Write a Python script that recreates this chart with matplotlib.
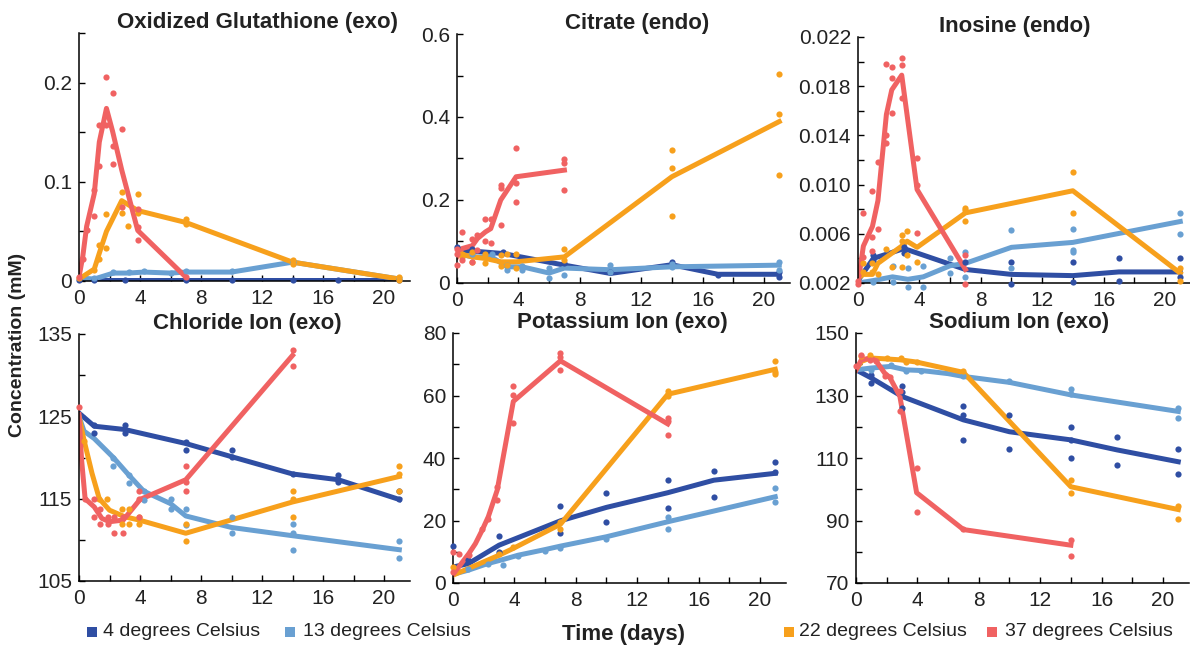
import numpy as np
import matplotlib
matplotlib.use("Agg")
import matplotlib.pyplot as plt
from matplotlib.patches import Rectangle

plt.rcParams['font.family'] = ['Liberation Sans', 'DejaVu Sans']

# colours per storage temperature
c4 = '#2f4ea3'
c13 = '#69a0d2'
c22 = '#f7a01c'
c37 = '#f06262'

temps = ['4 degrees Celsius', '13 degrees Celsius', '22 degrees Celsius', '37 degrees Celsius']

# ---- Oxidized glutathione (exo) ----
gssg_t4 = [0, 1, 3, 7, 10, 14, 17, 21]
gssg_y4 = [0.001, 0.001, 0.001, 0.001, 0.001, 0.001, 0.001, 0.001]
gssg_dt4 = [0, 1, 3, 7, 10, 14, 17, 21]
gssg_dy4 = [0.001, 0.001, 0.001, 0.001, 0.001, 0.001, 0.001, 0.001]
gssg_t13 = [0, 1, 2.25, 3.25, 4.25, 6, 7, 10, 14, 21]
gssg_y13 = [0.003, 0.002, 0.008, 0.008, 0.009, 0.008, 0.009, 0.009, 0.019, 0.002]
gssg_dt13 = [1, 2.25, 3.25, 4.25, 6, 7, 10, 14, 14, 21]
gssg_dy13 = [0.003, 0.009, 0.009, 0.010, 0.008, 0.010, 0.010, 0.020, 0.018, 0.003]
gssg_t22 = [0, 1, 1.33, 1.8, 2.8, 3.85, 7, 14, 21]
gssg_y22 = [0.002, 0.012, 0.028, 0.050, 0.081, 0.071, 0.059, 0.019, 0.002]
gssg_dt22 = [0, 1, 1.33, 1.33, 1.8, 1.8, 2.8, 2.8, 3.2, 3.85, 3.85, 7, 7, 14, 14, 21, 21]
gssg_dy22 = [0.003, 0.011, 0.036, 0.022, 0.068, 0.033, 0.090, 0.069, 0.055, 0.088, 0.069,
             0.062, 0.057, 0.021, 0.017, 0.004, 0.001]
gssg_t37 = [0, 0.25, 0.5, 1, 1.33, 1.8, 2.2, 2.8, 3.85, 7]
gssg_y37 = [0.004, 0.025, 0.055, 0.088, 0.140, 0.174, 0.151, 0.112, 0.051, 0.004]
gssg_dt37 = [0, 0.25, 0.5, 1, 1, 1.33, 1.33, 1.8, 1.8, 2.2, 2.2, 2.2, 2.8, 2.8,
             3.85, 3.85, 3.85, 7]
gssg_dy37 = [0.004, 0.022, 0.051, 0.092, 0.066, 0.157, 0.116, 0.206, 0.157, 0.190, 0.136,
             0.118, 0.153, 0.075, 0.073, 0.054, 0.041, 0.004]

# ---- Citrate (endo) ----
cit_t4 = [0, 1, 3, 7, 10, 14, 17, 21]
cit_y4 = [0.077, 0.077, 0.071, 0.043, 0.023, 0.044, 0.021, 0.021]
cit_dt4 = [0, 1, 3, 7, 10, 14, 17, 21, 21]
cit_dy4 = [0.087, 0.083, 0.075, 0.047, 0.027, 0.050, 0.019, 0.015, 0.027]
cit_t13 = [0, 1, 2.25, 3.25, 4.25, 6, 7, 10, 14, 21]
cit_y13 = [0.071, 0.063, 0.063, 0.039, 0.039, 0.024, 0.036, 0.032, 0.039, 0.043]
cit_dt13 = [1, 2.25, 3.25, 3.25, 4.25, 4.25, 6, 6, 7, 10, 10, 14, 14, 21, 21]
cit_dy13 = [0.071, 0.071, 0.031, 0.043, 0.031, 0.040, 0.012, 0.035, 0.019, 0.043, 0.027,
            0.046, 0.039, 0.051, 0.031]
cit_t22 = [0.33, 1, 1.85, 2.85, 3.85, 7, 14, 21]
cit_y22 = [0.069, 0.063, 0.059, 0.051, 0.051, 0.063, 0.256, 0.389]
cit_dt22 = [0.33, 0.33, 1, 1, 1.85, 1.85, 2.85, 2.85, 3.25, 3.25, 3.85, 3.85, 7, 7,
            14, 14, 14, 21, 21, 21]
cit_dy22 = [0.071, 0.063, 0.075, 0.050, 0.071, 0.047, 0.067, 0.040, 0.069, 0.043, 0.069,
            0.036, 0.081, 0.055, 0.320, 0.278, 0.161, 0.503, 0.408, 0.260]
cit_t37 = [0, 0.33, 1, 1.33, 1.85, 2.2, 2.85, 3.85, 7]
cit_y37 = [0.063, 0.083, 0.090, 0.107, 0.123, 0.131, 0.200, 0.256, 0.272]
cit_dt37 = [0, 0, 0, 0.33, 0.33, 1, 1, 1.33, 1.33, 1.85, 1.85, 2.2, 2.2, 2.85, 2.85, 2.85,
            3.85, 3.85, 3.85, 7, 7, 7]
cit_dy37 = [0.083, 0.071, 0.043, 0.122, 0.055, 0.105, 0.050, 0.115, 0.080, 0.154, 0.101,
            0.154, 0.097, 0.236, 0.228, 0.139, 0.326, 0.240, 0.196, 0.298, 0.290, 0.223]

# ---- Inosine (endo) ----
ino_t4 = [0, 1, 3, 7, 10, 14, 17, 21]
ino_y4 = [0.0022, 0.0040, 0.0048, 0.0031, 0.0027, 0.0026, 0.0029, 0.0029]
ino_dt4 = [1, 1, 3, 3, 7, 10, 10, 14, 14, 17, 17, 21, 21]
ino_dy4 = [0.0043, 0.0039, 0.0049, 0.0044, 0.0037, 0.0037, 0.0019, 0.0037, 0.0021,
           0.0040, 0.0022, 0.0040, 0.0025]
ino_t13 = [0, 1, 2.25, 3.25, 4.25, 6, 7, 10, 14, 21]
ino_y13 = [0.0020, 0.0022, 0.0025, 0.0023, 0.0025, 0.0034, 0.0036, 0.0049, 0.0053, 0.0070]
ino_dt13 = [1, 2.25, 2.25, 3.25, 3.25, 4.25, 4.25, 6, 6, 7, 7, 10, 10, 14, 14, 14, 21, 21]
ino_dy13 = [0.0021, 0.0034, 0.0021, 0.0032, 0.0017, 0.0034, 0.0017, 0.0040, 0.0028,
            0.0045, 0.0025, 0.0063, 0.0032, 0.0064, 0.0047, 0.0045, 0.0077, 0.0060]
ino_t22 = [0, 0.35, 0.94, 1.3, 1.85, 2.85, 3.2, 3.85, 7, 14, 21]
ino_y22 = [0.0024, 0.0027, 0.0027, 0.0036, 0.0041, 0.0050, 0.0054, 0.0049, 0.0077,
           0.0095, 0.0028]
ino_dt22 = [0.35, 0.35, 0.94, 0.94, 1.3, 1.85, 2.2, 2.85, 2.85, 2.85, 3.2, 3.2, 3.85,
            7, 7, 7, 14, 14, 21, 21]
ino_dy22 = [0.0036, 0.0029, 0.0036, 0.0029, 0.0027, 0.0048, 0.0033, 0.0059, 0.0054,
            0.0033, 0.0062, 0.0043, 0.0037, 0.0081, 0.0079, 0.0070, 0.0110, 0.0077,
            0.0032, 0.0022]
ino_t37 = [0, 0.35, 0.94, 1.3, 1.85, 2.2, 2.85, 3.85, 7]
ino_y37 = [0.0020, 0.0050, 0.0066, 0.0087, 0.0157, 0.0177, 0.0189, 0.0096, 0.0031]
ino_dt37 = [0, 0, 0.35, 0.35, 0.94, 0.94, 0.94, 1.3, 1.3, 1.85, 1.85, 1.85, 2.2, 2.2,
            2.2, 2.85, 2.85, 2.85, 3.85, 3.85, 3.85, 7, 7]
ino_dy37 = [0.0022, 0.0019, 0.0077, 0.0041, 0.0095, 0.0057, 0.0046, 0.0118, 0.0064,
            0.0198, 0.0140, 0.0134, 0.0196, 0.0187, 0.0158, 0.0203, 0.0197, 0.0170,
            0.0122, 0.0100, 0.0061, 0.0043, 0.0019]

# ---- Chloride ion (exo) ----
cl_t4 = [0, 1, 3, 7, 10, 14, 17, 21]
cl_y4 = [125.4, 123.8, 123.4, 121.7, 120.1, 118.0, 117.3, 114.9]
cl_dt4 = [1, 1, 3, 3, 7, 7, 10, 10, 14, 17, 17, 21, 21]
cl_dy4 = [124, 123, 124, 123, 121.9, 120.9, 120.9, 120.1, 118, 117.9, 117, 115.9, 114.9]
cl_t13 = [0, 0.33, 1, 2.25, 3.25, 4.25, 6, 7, 10, 14, 21]
cl_y13 = [125, 123.2, 122.3, 120, 117.9, 115.9, 114.4, 112.9, 111.5, 110.5, 108.8]
cl_dt13 = [2.25, 2.25, 3.25, 3.25, 4.25, 4.25, 6, 6, 7, 7, 10, 10, 14, 14, 14, 21, 21]
cl_dy13 = [120, 119, 117.9, 116.9, 115.9, 114.8, 114.9, 113.8, 113.8, 111.8, 112.8,
           110.8, 111.9, 110.8, 108.8, 109.8, 107.8]
cl_t22 = [0, 0.33, 0.85, 1.33, 2, 3, 3.95, 7, 14, 21]
cl_y22 = [125, 122.1, 118.1, 115, 113.6, 112.8, 112.4, 110.8, 114.6, 117.7]
cl_dt22 = [0.33, 1.33, 1.85, 2.85, 2.85, 3.25, 3.25, 3.95, 3.95, 7, 7, 14, 14, 14, 21, 21, 21]
cl_dy22 = [122, 114.9, 114.9, 113.8, 111.9, 113.8, 111.9, 112.8, 111.9, 111.9, 109.8,
           115.9, 114.9, 112.8, 119, 118, 115.9]
cl_t37 = [0, 0.17, 0.4, 1, 1.5, 2, 2.9, 4, 7, 14]
cl_y37 = [125.2, 119.7, 115, 114, 112.6, 112.2, 112.4, 114.9, 117.3, 132.4]
cl_dt37 = [0, 0.4, 1, 1, 1.4, 1.4, 1.9, 1.9, 2.3, 2.3, 2.9, 2.9, 3.95, 3.95, 3.95,
           7, 7, 7, 14, 14]
cl_dy37 = [126.1, 114.9, 114.9, 112.8, 113.8, 111.9, 112.8, 111.9, 112.8, 110.8, 112.8,
           110.8, 115.9, 114.9, 112.8, 119, 117, 115.9, 133.1, 131.1]

# ---- Potassium ion (exo) ----
k_t4 = [0, 1, 3, 7, 10, 14, 17, 21]
k_y4 = [5.1, 6.2, 12.1, 19.9, 24.2, 28.9, 32.9, 35.1]
k_dt4 = [0, 1, 3, 3, 7, 7, 10, 10, 14, 14, 17, 17, 21, 21]
k_dy4 = [11.9, 7.3, 15.1, 9.9, 24.7, 16.1, 28.7, 19.6, 32.9, 23.9, 35.9, 27.6, 38.6, 35.6]
k_t13 = [0, 1, 2.25, 3.25, 4.25, 6, 7, 10, 14, 21]
k_y13 = [2.8, 4.1, 6.2, 7.5, 8.9, 10.7, 11.8, 14.8, 19.6, 27.6]
k_dt13 = [1, 2.25, 3.25, 4.25, 6, 7, 10, 14, 14, 21, 21]
k_dy13 = [4.5, 6.0, 5.7, 8.5, 10.3, 11.2, 14.1, 17.4, 21.2, 30.3, 26.0]
k_t22 = [0, 3, 3.9, 7, 14, 21]
k_y22 = [2.5, 8.9, 11.0, 18.8, 60.4, 68.4]
k_dt22 = [0, 3, 3.9, 7, 7, 14, 14, 21, 21, 21]
k_dy22 = [5.1, 9.4, 11.5, 19.6, 17.4, 61.3, 60.0, 71.1, 67.4, 67.0]
k_t37 = [0, 0.37, 1.03, 1.46, 1.9, 2.3, 2.88, 3.93, 7, 14]
k_y37 = [2.8, 5.1, 9.4, 12.6, 16.9, 21.2, 29.7, 58.1, 71.1, 50.9]
k_dt37 = [0, 0, 0.37, 1.03, 1.9, 2.3, 2.88, 2.88, 3.93, 3.93, 3.93, 7, 7, 7, 14, 14, 14]
k_dy37 = [9.9, 3.5, 9.4, 9.0, 17.4, 20.5, 30.8, 26.5, 62.9, 60.2, 51.1, 73.6, 72.2,
          68.2, 52.7, 51.7, 47.4]

# ---- Sodium ion (exo) ----
na_t4 = [0, 1, 3, 7, 10, 14, 17, 21]
na_y4 = [138.2, 135.6, 129.7, 122.2, 118.4, 115.8, 112.6, 108.8]
na_dt4 = [1, 1, 3, 3, 3, 7, 7, 7, 10, 10, 14, 14, 14, 17, 17, 21, 21]
na_dy4 = [134, 136.5, 133.1, 131, 125.9, 126.8, 123.8, 115.8, 123.8, 112.8, 119.8, 115.8,
          109.9, 116.8, 107.8, 112.8, 104.9]
na_t13 = [0, 1, 2.25, 3.25, 4.25, 6, 7, 10, 14, 21]
na_y13 = [138.2, 138.8, 139.3, 138.2, 138, 137, 136.1, 134.2, 130.2, 124.9]
na_dt13 = [1, 2.25, 3.25, 4.25, 7, 10, 14, 14, 21, 21]
na_dy13 = [138.2, 139.8, 138, 138, 136.3, 134.7, 132, 130.4, 125.9, 122.7]
na_t22 = [0, 0.35, 0.94, 2, 2.9, 3.95, 7, 14, 21]
na_y22 = [138.2, 140.9, 142, 141.7, 141.4, 140.7, 137.4, 100.8, 93.5]
na_dt22 = [0.35, 0.94, 2, 2.9, 3.25, 3.95, 7, 14, 14, 21, 21]
na_dy22 = [142.5, 143, 141.9, 141.9, 140.8, 140.8, 138, 102.9, 98.9, 94.7, 90.6]
na_t37 = [0, 0.35, 0.94, 1.3, 1.86, 2.2, 2.86, 3.95, 7, 14]
na_y37 = [138.2, 141.4, 142, 141.1, 137.2, 135.8, 129.7, 98.9, 87.1, 82.1]
na_dt37 = [0, 0.35, 0.94, 1.3, 1.86, 2.2, 2.86, 2.86, 3.95, 3.95, 7, 14, 14]
na_dy37 = [139.5, 143, 141.4, 141, 136.1, 135.9, 131.3, 124.9, 106.7, 92.8, 87.4, 83.9, 78.6]


W, H = 1190, 646
fig = plt.figure(figsize=(W / 100, H / 100), dpi=100)


def add_axes(left, top, bottom, width=333):
    return fig.add_axes([left / W, 1 - bottom / H, width / W, (bottom - top) / H])


def series(ax, t, y, dt, dy, color):
    ax.plot(t, y, color=color, lw=3.6, solid_joinstyle='round', zorder=2)
    ax.scatter(dt, dy, s=20, color=color, linewidths=0, zorder=3, clip_on=False)


def style(ax, title, tx, ylim, yticks, ylabels, yminor):
    ax.set_xlim(0, 21.7)
    ax.set_ylim(*ylim)
    ax.set_xticks([0, 4, 8, 12, 16, 20])
    ax.set_xticks(np.arange(0, 21, 2), minor=True)
    ax.set_yticks(yticks, ylabels)
    ax.set_yticks(yminor, minor=True)
    ax.tick_params(which='both', direction='in', length=4, width=1,
                   labelsize=15, labelcolor='#222222')
    ax.tick_params(axis='y', pad=5)
    ax.tick_params(axis='x', pad=6)
    for s in ['top', 'right']:
        ax.spines[s].set_visible(False)
    for s in ['left', 'bottom']:
        ax.spines[s].set_linewidth(1.1)
    ax.set_title(title, x=tx, fontsize=16, fontweight='bold', color='#222222', pad=-0.5)


panels = [
    (add_axes(79, 33, 281, 331), 'Oxidized Glutathione (exo)', 0.54,
     (0, 0.25), [0, 0.1, 0.2], ['0', '0.1', '0.2'], np.arange(0, 0.26, 0.05),
     [(gssg_t4, gssg_y4, gssg_dt4, gssg_dy4), (gssg_t13, gssg_y13, gssg_dt13, gssg_dy13),
      (gssg_t22, gssg_y22, gssg_dt22, gssg_dy22), (gssg_t37, gssg_y37, gssg_dt37, gssg_dy37)]),
    (add_axes(457, 34, 283), 'Citrate (endo)', 0.54,
     (0, 0.6), [0, 0.2, 0.4, 0.6], ['0', '0.2', '0.4', '0.6'], np.arange(0, 0.61, 0.1),
     [(cit_t4, cit_y4, cit_dt4, cit_dy4), (cit_t13, cit_y13, cit_dt13, cit_dy13),
      (cit_t22, cit_y22, cit_dt22, cit_dy22), (cit_t37, cit_y37, cit_dt37, cit_dy37)]),
    (add_axes(858, 37, 283), 'Inosine (endo)', 0.47,
     (0.002, 0.022), [0.002, 0.006, 0.010, 0.014, 0.018, 0.022],
     ['0.002', '0.006', '0.010', '0.014', '0.018', '0.022'], np.arange(0.002, 0.0221, 0.002),
     [(ino_t4, ino_y4, ino_dt4, ino_dy4), (ino_t13, ino_y13, ino_dt13, ino_dy13),
      (ino_t22, ino_y22, ino_dt22, ino_dy22), (ino_t37, ino_y37, ino_dt37, ino_dy37)]),
    (add_axes(79, 334, 581, 331), 'Chloride Ion (exo)', 0.51,
     (105, 135), [105, 115, 125, 135], ['105', '115', '125', '135'], np.arange(105, 136, 5),
     [(cl_t4, cl_y4, cl_dt4, cl_dy4), (cl_t13, cl_y13, cl_dt13, cl_dy13),
      (cl_t22, cl_y22, cl_dt22, cl_dy22), (cl_t37, cl_y37, cl_dt37, cl_dy37)]),
    (add_axes(453, 333, 583), 'Potassium Ion (exo)', 0.51,
     (0, 80), [0, 20, 40, 60, 80], ['0', '20', '40', '60', '80'], np.arange(0, 81, 10),
     [(k_t4, k_y4, k_dt4, k_dy4), (k_t13, k_y13, k_dt13, k_dy13),
      (k_t22, k_y22, k_dt22, k_dy22), (k_t37, k_y37, k_dt37, k_dy37)]),
    (add_axes(856, 333, 583), 'Sodium Ion (exo)', 0.49,
     (70, 150), [70, 90, 110, 130, 150], ['70', '90', '110', '130', '150'],
     np.arange(70, 151, 10),
     [(na_t4, na_y4, na_dt4, na_dy4), (na_t13, na_y13, na_dt13, na_dy13),
      (na_t22, na_y22, na_dt22, na_dy22), (na_t37, na_y37, na_dt37, na_dy37)]),
]

colors = [c4, c13, c22, c37]
for ax, title, tx, ylim, yt, yl, ym, data in panels:
    for (t, y, dt, dy), col in zip(data, colors):
        series(ax, t, y, dt, dy, col)
    style(ax, title, tx, ylim, yt, yl, ym)

fig.text(18 / W, 1 - 345 / H, 'Concentration (mM)', rotation=90, ha='center', va='center',
         fontsize=14, fontweight='bold', color='#222222')
fig.text(624 / W, 1 / H, 'Time (days)', ha='center', va='bottom',
         fontsize=16, fontweight='bold', color='#222222')

# legend: coloured squares with labels, split either side of the x label
leg_sq = [87, 285, 784, 987]
leg_tx = [103, 303, 799, 1005]
for sx, tx, col, lab in zip(leg_sq, leg_tx, colors, temps):
    fig.add_artist(Rectangle((sx / W, 1 - 637 / H), 10 / W, 10 / H,
                             transform=fig.transFigure, color=col, lw=0))
    fig.text(tx / W, 1 - 632 / H, lab, ha='left', va='center', fontsize=14, color='#222222')

fig.savefig('out.png', dpi=100)
